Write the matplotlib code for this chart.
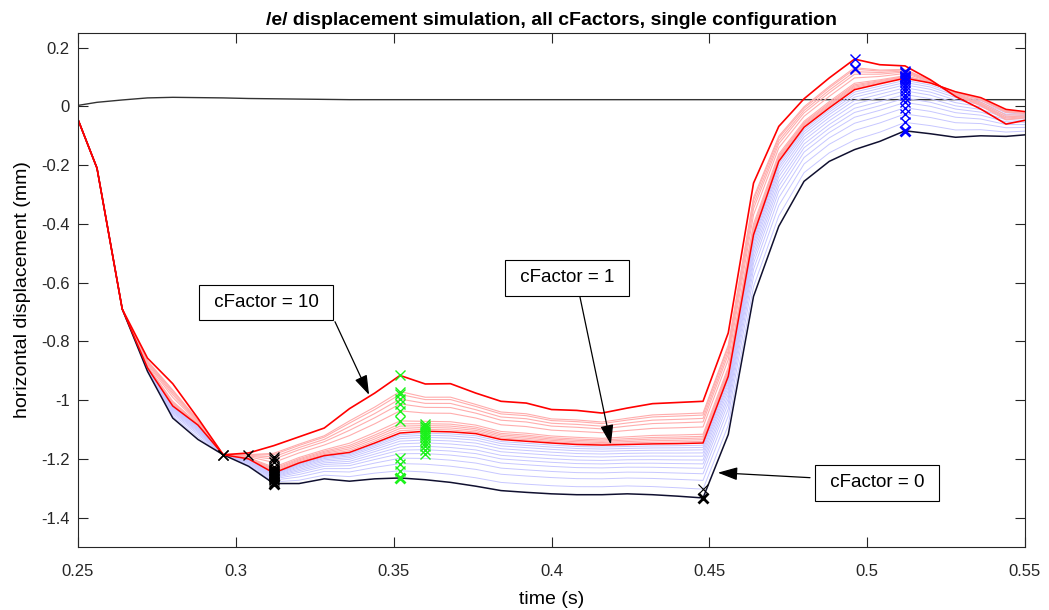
import numpy as np
import matplotlib
matplotlib.use('Agg')
import matplotlib.pyplot as plt

plt.rcParams['font.family'] = ['Liberation Sans', 'DejaVu Sans']
plt.rcParams['axes.unicode_minus'] = False

# time grid (s)
t = np.array([0.248, 0.256, 0.264, 0.272, 0.280, 0.288, 0.296, 0.304, 0.312, 0.320,
              0.328, 0.336, 0.344, 0.352, 0.360, 0.368, 0.376, 0.384, 0.392, 0.400,
              0.408, 0.416, 0.424, 0.432, 0.440, 0.448, 0.456, 0.464, 0.472, 0.480,
              0.488, 0.496, 0.504, 0.512, 0.520, 0.528, 0.536, 0.544, 0.552])

# reference trace near zero
ref = np.array([0.000, 0.014, 0.022, 0.029, 0.031, 0.030, 0.029, 0.027, 0.026, 0.025,
                0.024, 0.023, 0.023, 0.023, 0.023, 0.023, 0.023, 0.023, 0.023, 0.023,
                0.023, 0.023, 0.023, 0.023, 0.023, 0.023, 0.023, 0.023, 0.023, 0.023,
                0.023, 0.023, 0.023, 0.023, 0.023, 0.023, 0.023, 0.023, 0.023])

# cFactor = 0
c0 = np.array([0.010, -0.210, -0.690, -0.902, -1.061, -1.134, -1.186, -1.225, -1.284, -1.284,
               -1.268, -1.276, -1.268, -1.265, -1.271, -1.280, -1.293, -1.308, -1.314, -1.319,
               -1.322, -1.322, -1.319, -1.322, -1.327, -1.333, -1.117, -0.647, -0.408, -0.255,
               -0.187, -0.147, -0.119, -0.083, -0.093, -0.105, -0.100, -0.102, -0.095])

# cFactor = 1
c1 = np.array([0.010, -0.210, -0.690, -0.890, -1.020, -1.085, -1.186, -1.200, -1.248, -1.214,
               -1.189, -1.178, -1.146, -1.112, -1.106, -1.108, -1.114, -1.134, -1.140, -1.146,
               -1.151, -1.153, -1.151, -1.149, -1.148, -1.146, -0.919, -0.437, -0.187, -0.071,
               -0.005, 0.057, 0.077, 0.096, 0.080, 0.050, 0.030, -0.010, -0.020])

# cFactor = 10
c10 = np.array([0.010, -0.210, -0.690, -0.857, -0.944, -1.062, -1.186, -1.180, -1.155, -1.125,
                -1.095, -1.029, -0.976, -0.916, -0.945, -0.944, -0.976, -1.004, -1.010, -1.032,
                -1.035, -1.044, -1.027, -1.012, -1.008, -1.004, -0.771, -0.261, -0.068, 0.026,
                0.097, 0.161, 0.142, 0.138, 0.091, 0.034, -0.009, -0.060, -0.043])

# relative position of the thin traces
blue_pos = [0.16, 0.32, 0.44, 0.54, 0.62, 0.69, 0.76, 0.82, 0.875, 0.92, 0.96]
red_pos = [0.04, 0.08, 0.12, 0.16, 0.21, 0.385, 0.505, 0.59, 0.67, 0.72]

blues = [c0 + w * (c1 - c0) for w in blue_pos]
reds = [c1 + u * (c10 - c1) for u in red_pos]
curves = [c0] + blues + [c1] + reds + [c10]

fig = plt.figure(figsize=(10.49, 6.10), dpi=100)
ax = fig.add_axes([0.0744, 0.1033, 0.9027, 0.8426])

ax.plot(t, ref, color='#333333', lw=1.0)
for b in blues:
    ax.plot(t, b, color=(0.78, 0.78, 1.0), lw=0.7)
for r in reds:
    ax.plot(t, r, color=(1.0, 0.68, 0.68), lw=0.8)
ax.plot(t, c0, color='#101030', lw=1.1)
ax.plot(t, c1, color='red', lw=1.1)
ax.plot(t, c10, color='red', lw=1.2)


def mark(lo, hi, fn, color):
    m = (t >= lo) & (t <= hi)
    idx = np.where(m)[0]
    for i, c in enumerate(curves):
        k = idx[fn(c[idx])]
        ax.plot(t[k], c[k], 'x', color=color, ms=7, mew=2.0 if i == 0 else 1.0)


mark(0.29, 0.315, np.argmin, 'black')
mark(0.345, 0.365, np.argmax, (0.1, 0.95, 0.1))
mark(0.49, 0.515, np.argmax, 'blue')
for i, c in enumerate(curves[:2]):
    k = np.argmin(np.abs(t - 0.448))
    ax.plot(t[k], c[k], 'x', color='black', ms=7, mew=2.0 if i == 0 else 0.8)

box = dict(boxstyle='square,pad=0.5', fc='white', ec='black', lw=0.8)
arr = dict(arrowstyle='-|>,head_length=1.2,head_width=0.4', color='black', lw=0.9,
           shrinkA=0, shrinkB=0)
ax.annotate('', xy=(0.3422, -0.982), xytext=(0.3314, -0.733), arrowprops=arr)
ax.annotate('', xy=(0.4188, -1.151), xytext=(0.409, -0.648), arrowprops=arr)
ax.annotate('', xy=(0.4527, -1.247), xytext=(0.4819, -1.264), arrowprops=arr)
ax.text(0.3096, -0.668, ' cFactor = 10 ', ha='center', va='center', fontsize=13.5, bbox=box)
ax.text(0.4049, -0.583, ' cFactor = 1 ', ha='center', va='center', fontsize=13.5, bbox=box)
ax.text(0.5031, -1.281, ' cFactor = 0 ', ha='center', va='center', fontsize=13.5, bbox=box)

ax.set_xlim(0.25, 0.55)
ax.set_ylim(-1.5, 0.25)
ax.set_xticks(np.arange(0.25, 0.551, 0.05))
ax.set_yticks(np.arange(-1.4, 0.21, 0.2))
ax.xaxis.set_major_formatter(matplotlib.ticker.FormatStrFormatter('%g'))
ax.yaxis.set_major_formatter(matplotlib.ticker.FuncFormatter(lambda v, p: '%g' % (round(v, 2) + 0.0)))
ax.tick_params(direction='in', top=True, right=True, length=7, labelsize=12,
               colors='#262626')
ax.tick_params(axis='x', pad=12)
ax.tick_params(axis='y', pad=6)
for s in ax.spines.values():
    s.set_color('#262626')
    s.set_linewidth(0.8)

ax.set_xlabel('time (s)', fontsize=14, labelpad=9)
ax.set_ylabel('horizontal displacement (mm)', fontsize=14, labelpad=7)
ax.set_title('/e/ displacement simulation, all cFactors, single configuration',
             fontsize=14, fontweight='bold', pad=6)

fig.savefig('out.png', dpi=100)
